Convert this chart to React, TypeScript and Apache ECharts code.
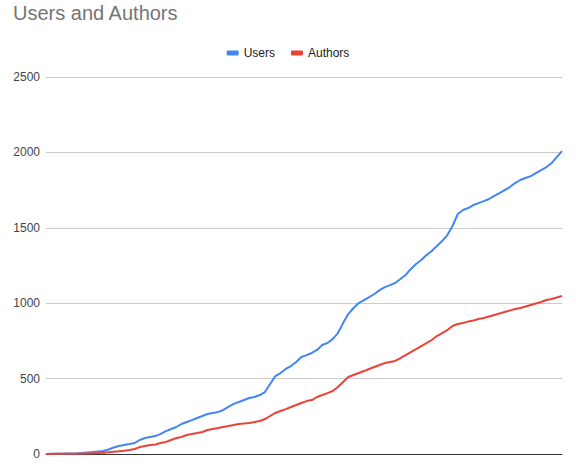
import React, { useEffect, useRef } from "react";
import * as echarts from "echarts";

const titleText = "Users and Authors";
const seriesNames = ["Users", "Authors"];
const yTicks = [0, 500, 1000, 1500, 2000, 2500];

const users = [
  0, 1, 2, 2, 3, 4, 5, 7, 10, 13,
  17, 20, 30, 43, 53, 60, 66, 73, 93, 106,
  113, 119, 133, 152, 166, 179, 199, 212, 225, 239,
  252, 265, 272, 278, 292, 312, 332, 345, 358, 371,
  378, 391, 411, 464, 517, 537, 564, 583, 610, 643,
  656, 670, 690, 723, 736, 762, 802, 868, 928, 968,
  1001, 1021, 1041, 1061, 1087, 1107, 1120, 1134, 1160, 1187,
  1227, 1260, 1286, 1319, 1346, 1379, 1412, 1452, 1512, 1591,
  1618, 1631, 1651, 1664, 1677, 1691, 1711, 1730, 1750, 1770,
  1797, 1817, 1830, 1843, 1863, 1883, 1903, 1929, 1969, 2009,
];

const authors = [
  0, 0, 1, 1, 1, 2, 2, 3, 4, 5,
  6, 8, 11, 15, 18, 22, 27, 33, 46, 53,
  60, 63, 73, 80, 93, 106, 113, 126, 133, 139,
  146, 159, 166, 172, 179, 186, 192, 199, 203, 206,
  212, 219, 232, 252, 272, 285, 298, 312, 325, 338,
  351, 358, 378, 391, 404, 418, 444, 477, 511, 524,
  537, 550, 564, 577, 590, 603, 610, 617, 636, 656,
  676, 696, 716, 736, 756, 782, 802, 822, 849, 862,
  869, 878, 885, 895, 902, 912, 922, 932, 942, 951,
  961, 968, 978, 988, 998, 1008, 1021, 1028, 1038, 1048,
];

const categories = users.map((_, i) => String(i + 1));

export default function App() {
  const ref = useRef<HTMLDivElement>(null);
  useEffect(() => {
    if (!ref.current) return;
    const chart = echarts.init(ref.current, null, { renderer: "svg" });
    chart.setOption({
      animation: false,
      backgroundColor: "#ffffff",
      title: {
        text: titleText,
        left: 13,
        top: 3,
        padding: 0,
        textStyle: {
          fontFamily: "Liberation Sans, Arial, sans-serif",
          fontSize: 20,
          fontWeight: "normal",
          color: "#757575",
        },
      },
      legend: {
        data: seriesNames,
        top: 47,
        left: "center",
        padding: 0,
        itemWidth: 12,
        itemHeight: 5,
        itemGap: 16,
        icon: "roundRect",
        textStyle: {
          fontFamily: "Liberation Sans, Arial, sans-serif",
          fontSize: 12,
          color: "#222222",
        },
      },
      grid: { left: 46, right: 14, top: 77, bottom: 12 },
      xAxis: {
        type: "category",
        data: categories,
        boundaryGap: false,
        axisLine: { show: true, lineStyle: { color: "#333333", width: 1 } },
        axisTick: { show: false },
        axisLabel: { show: false },
        splitLine: { show: false },
      },
      yAxis: {
        type: "value",
        min: yTicks[0],
        max: yTicks[yTicks.length - 1],
        interval: 500,
        axisLine: { show: false },
        axisTick: { show: false },
        axisLabel: {
          margin: 6,
          formatter: (v: number) => String(v),
          fontFamily: "Liberation Sans, Arial, sans-serif",
          fontSize: 12,
          color: "#444444",
        },
        splitLine: { lineStyle: { color: "#cccccc", width: 1 } },
      },
      series: [
        {
          name: seriesNames[0],
          type: "line",
          data: users,
          showSymbol: false,
          symbol: "none",
          lineStyle: { color: "#4285F4", width: 2 },
          itemStyle: { color: "#4285F4" },
        },
        {
          name: seriesNames[1],
          type: "line",
          data: authors,
          showSymbol: false,
          symbol: "none",
          lineStyle: { color: "#EA4335", width: 2 },
          itemStyle: { color: "#EA4335" },
        },
      ],
    });
    return () => chart.dispose();
  }, []);
  return (
    <div
      ref={ref}
      style={{ position: "fixed", left: 0, top: 0, width: 576, height: 466 }}
    />
  );
}
